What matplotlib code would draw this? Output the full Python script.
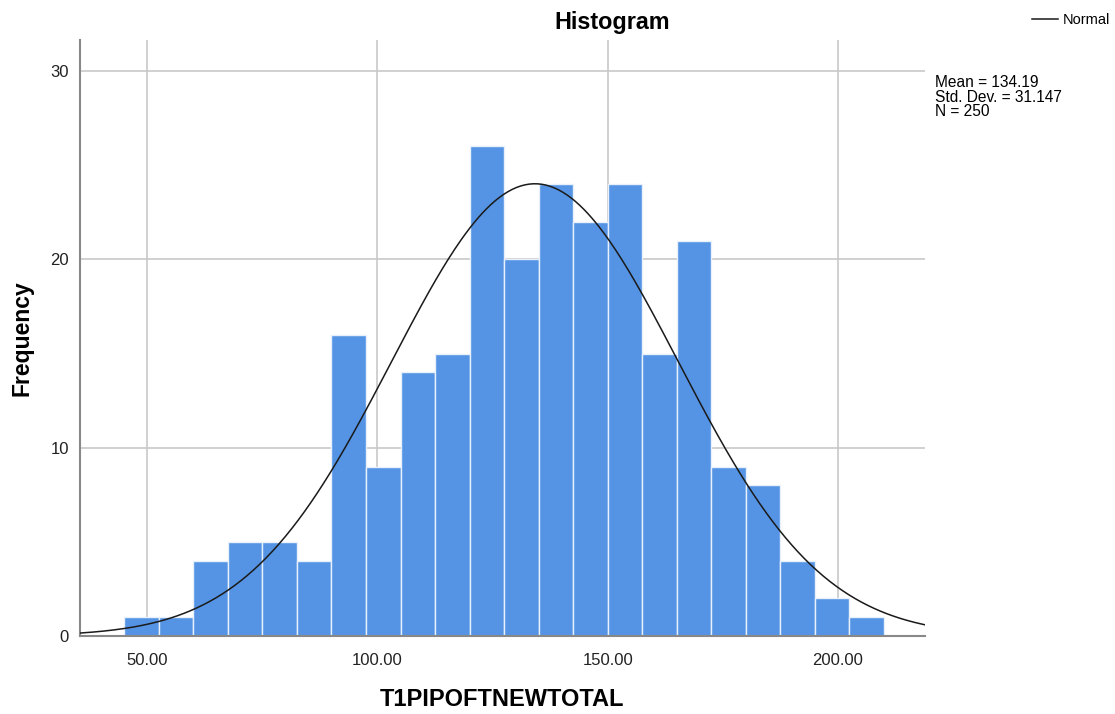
import numpy as np
import matplotlib
matplotlib.use('agg')
import matplotlib.pyplot as plt

plt.rcParams['font.family'] = ['Liberation Sans', 'DejaVu Sans']

# Histogram bins (width 7.5) and the frequency in each.
bin_edges = [45.0, 52.5, 60.0, 67.5, 75.0, 82.5, 90.0, 97.5, 105.0, 112.5, 120.0,
             127.5, 135.0, 142.5, 150.0, 157.5, 165.0, 172.5, 180.0, 187.5,
             195.0, 202.5, 210.0]
counts = [1, 1, 4, 5, 5, 4, 16, 9, 14, 15, 26, 20, 24, 22, 24, 15, 21, 9, 8, 4, 2, 1]

mean = 134.19
std_dev = 31.147
n_total = 250

x_ticks = [50, 100, 150, 200]
y_ticks = [0, 10, 20, 30]

fig = plt.figure(figsize=(11.15, 7.14), dpi=100)
ax = fig.add_axes([80/1115, 78/714, 845/1115, 596/714])

lefts = bin_edges[:-1]
widths = np.diff(bin_edges)
ax.bar(lefts, counts, width=widths, align='edge', color='#5594e4',
       edgecolor='#e8f0fb', linewidth=1.0, zorder=2)

# Fitted normal curve scaled to counts.
bw = widths[0]
xs = np.linspace(35.4, 218.9, 400)
ys = n_total * bw / (std_dev * np.sqrt(2*np.pi)) * np.exp(-0.5*((xs-mean)/std_dev)**2)
line, = ax.plot(xs, ys, color='#1a1a1a', linewidth=1.1, zorder=3)

ax.set_xlim(35.4, 218.9)
ax.set_ylim(0, 31.65)
ax.set_xticks(x_ticks)
ax.set_xticklabels(['%.2f' % v for v in x_ticks])
ax.set_yticks(y_ticks)
ax.grid(True, color='#c8c8c8', linewidth=1.2, zorder=0)
ax.set_axisbelow(True)
ax.tick_params(axis='x', length=0, labelsize=12, colors='#222222', pad=12)
ax.tick_params(axis='y', length=0, labelsize=12, colors='#222222', pad=8)

for s in ['top', 'right']:
    ax.spines[s].set_visible(False)
for s in ['left', 'bottom']:
    ax.spines[s].set_color('#888888')
    ax.spines[s].set_linewidth(1.5)

ax.set_xlabel('T1PIPOFTNEWTOTAL', fontsize=17, fontweight='bold', labelpad=15)
fig.text(22/1115, 1 - 338/714, 'Frequency', fontsize=16.5, fontweight='bold',
         rotation=90, ha='center', va='center')
fig.text(612/1115, 1 - 22/714, 'Histogram', fontsize=16.8, fontweight='bold',
         ha='center', va='center')

fig.legend([line], ['Normal'], loc='center left', bbox_to_anchor=(1019/1115, 1 - 20/714),
           frameon=False, fontsize=10.5, handlelength=1.8, handletextpad=0.3)

fig.text(935/1115, 1 - 97/714,
         'Mean = %.2f\nStd. Dev. = %.3f\nN = %d' % (mean, std_dev, n_total),
         fontsize=11.2, va='center', ha='left', linespacing=0.98)

plt.savefig('out.png', dpi=100)
